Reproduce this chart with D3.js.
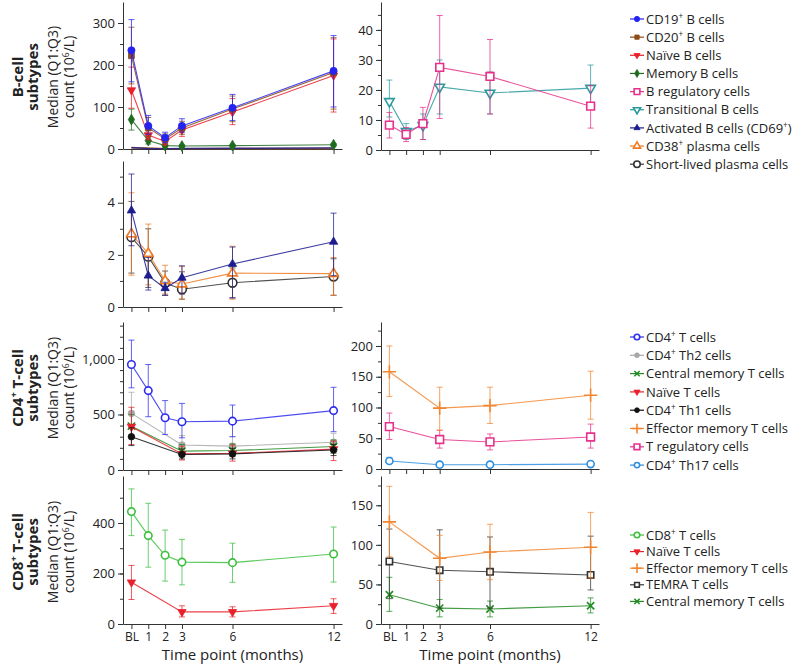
<!DOCTYPE html>
<html>
<head>
<meta charset="utf-8">
<script src="https://cdn.jsdelivr.net/npm/d3@7"></script>
<style>
  body { margin: 0; background: #fff; }
  svg { display: block; font-family: "Open Sans", "Noto Sans", sans-serif; }
  .axis path, .axis line { stroke: #333; }
  .axis text { font-size: 13px; fill: #222; font-family: "Open Sans", sans-serif; }
  .xaxis text { font-size: 12px; }
  .legend text { font-size: 13px; fill: #222; }
</style>
</head>
<body>
<script>
// time points (months) and their labels
const months = [0, 1, 2, 3, 6, 12];
const monthLabels = ["BL", "1", "2", "3", "6", "12"];

// B-cell subtypes: median, Q1, Q3
const cd19Med = [235, 55, 27, 55, 98, 186];
const cd19Q1 = [160, 35, 15, 40, 68, 100];
const cd19Q3 = [308, 80, 40, 72, 130, 270];
const cd20Med = [222, 50, 24, 50, 95, 182];
const cd20Q1 = [155, 30, 12, 35, 65, 95];
const cd20Q3 = [290, 75, 36, 66, 126, 265];
const naiveBMed = [140, 33, 18, 45, 88, 175];
const naiveBQ1 = [97, 22, 10, 30, 58, 88];
const naiveBQ3 = [195, 52, 30, 60, 120, 262];
const memBMed = [70, 20, 8, 7, 8, 10];
const memBQ1 = [45, 12, 5, 5, 6, 7];
const memBQ3 = [95, 28, 12, 10, 11, 13];
const bregMed = [8.3, 5.2, 8.8, 27.5, 24.5, 14.6];
const bregQ1 = [4, 2.8, 3.5, 10.5, 12, 7.3];
const bregQ3 = [12.5, 7.5, 14.2, 44.8, 36.8, 21.5];
const transMed = [16.2, 6.2, 8.2, 21, 19, 20.6];
const transQ1 = [11, 3.5, 3.5, 12, 12, 14];
const transQ3 = [23.3, 8.8, 12, 30, 26, 28.3];
const actMed = [3.7, 1.2, 0.72, 1.12, 1.65, 2.5];
const actQ1 = [2.35, 0.65, 0.45, 0.5, 0.35, 1.2];
const actQ3 = [5.1, 1.9, 0.95, 1.58, 2.3, 3.6];
const cd38Med = [2.8, 2.05, 1.0, 0.88, 1.3, 1.28];
const cd38Q1 = [1.22, 0.85, 0.5, 0.3, 0.3, 0.45];
const cd38Q3 = [4.38, 3.18, 1.6, 1.55, 2.33, 1.9];
const slpMed = [2.68, 1.93, 0.92, 0.68, 0.93, 1.17];
const slpQ1 = [1.3, 0.75, 0.45, 0.3, 0.35, 0.45];
const slpQ3 = [4.05, 3.0, 1.38, 1.35, 1.5, 1.85];

// CD4+ T-cell subtypes
const cd4Med = [950, 715, 470, 435, 440, 535];
const cd4Q1 = [740, 480, 320, 290, 300, 345];
const cd4Q3 = [1170, 950, 625, 600, 585, 745];
const th2Med = [510, null, null, 225, 215, 250];
const th2Q1 = [400, null, null, 160, 150, 170];
const th2Q3 = [700, null, null, 310, 300, 330];
const cm4Med = [395, null, null, 170, 175, 212];
const cm4Q1 = [300, null, null, 120, 120, 150];
const cm4Q3 = [500, null, null, 230, 235, 270];
const naiveT4Med = [390, null, null, 145, 150, 188];
const naiveT4Q1 = [230, null, null, 90, 80, 85];
const naiveT4Q3 = [565, null, null, 215, 225, 260];
const th1Med = [300, null, null, 140, 145, 180];
const th1Q1 = [220, null, null, 100, 100, 130];
const th1Q3 = [380, null, null, 190, 195, 230];
const em4Med = [158, null, null, 99, 103, 120];
const em4Q1 = [118, null, null, 63, 74, 81];
const em4Q3 = [200, null, null, 133, 133, 159];
const tregMed = [69, null, null, 48, 44, 52];
const tregQ1 = [48, null, null, 34, 31, 34];
const tregQ3 = [91, null, null, 63, 57, 73];
const th17Med = [13, null, null, 7, 7, 8];
const th17Q1 = [9, null, null, 5, 5, 6];
const th17Q3 = [19, null, null, 9, 9, 10];

// CD8+ T-cell subtypes
const cd8Med = [445, 350, 272, 245, 243, 277];
const cd8Q1 = [350, 225, 170, 155, 165, 166];
const cd8Q3 = [535, 478, 372, 335, 320, 384];
const naiveT8Med = [165, null, null, 48, 48, 72];
const naiveT8Q1 = [97, null, null, 28, 28, 42];
const naiveT8Q3 = [232, null, null, 72, 68, 100];
const em8Med = [129, null, null, 83, 91, 97];
const em8Q1 = [85, null, null, 55, 56, 58];
const em8Q3 = [174, null, null, 112, 126, 141];
const temraMed = [79, null, null, 68, 66, 62];
const temraQ1 = [32, null, null, 20, 20, 43];
const temraQ3 = [120, null, null, 119, 110, 111];
const cm8Med = [37, null, null, 20, 19, 23];
const cm8Q1 = [16, null, null, 9, 9, 14];
const cm8Q3 = [59, null, null, 31, 29, 33];

// series objects (style + data)
function ser(label, med, q1, q3, color, sym, open, size, rot) {
  return { label, med, q1, q3, color, sym, open, size: size || 36, rot: rot || 0 };
}
const S = {
  cd19: ser("CD19^+ B cells", cd19Med, cd19Q1, cd19Q3, "#2424f0", d3.symbolCircle, false, 40),
  cd20: ser("CD20^+ B cells", cd20Med, cd20Q1, cd20Q3, "#8b4a16", d3.symbolSquare, false, 34),
  naiveB: ser("Naïve B cells", naiveBMed, naiveBQ1, naiveBQ3, "#e8202a", d3.symbolTriangle, false, 30, 180),
  memB: ser("Memory B cells", memBMed, memBQ1, memBQ3, "#1e6b1e", d3.symbolDiamond, false, 34),
  breg: ser("B regulatory cells", bregMed, bregQ1, bregQ3, "#e6308a", d3.symbolSquare, true, 60),
  trans: ser("Transitional B cells", transMed, transQ1, transQ3, "#2a9a9e", d3.symbolTriangle, true, 40, 180),
  act: ser("Activated B cells (CD69^+)", actMed, actQ1, actQ3, "#1c1c8e", d3.symbolTriangle, false, 30),
  cd38: ser("CD38^+ plasma cells", cd38Med, cd38Q1, cd38Q3, "#f07a22", d3.symbolTriangle, true, 40),
  slp: ser("Short-lived plasma cells", slpMed, slpQ1, slpQ3, "#333333", d3.symbolCircle, true, 60),
  cd4: ser("CD4^+ T cells", cd4Med, cd4Q1, cd4Q3, "#2d2df0", d3.symbolCircle, true, 44),
  th2: ser("CD4^+ Th2 cells", th2Med, th2Q1, th2Q3, "#a8a8a8", d3.symbolCircle, false, 34),
  cm4: ser("Central memory T cells", cm4Med, cm4Q1, cm4Q3, "#238a23", d3.symbolX, true, 36),
  naiveT4: ser("Naïve T cells", naiveT4Med, naiveT4Q1, naiveT4Q3, "#e8202a", d3.symbolTriangle, false, 30, 180),
  th1: ser("CD4^+ Th1 cells", th1Med, th1Q1, th1Q3, "#111111", d3.symbolCircle, false, 34),
  em4: ser("Effector memory T cells", em4Med, em4Q1, em4Q3, "#f28630", d3.symbolPlus, true, 60),
  treg: ser("T regulatory cells", tregMed, tregQ1, tregQ3, "#e6308a", d3.symbolSquare, true, 60),
  th17: ser("CD4^+ Th17 cells", th17Med, th17Q1, th17Q3, "#2e8fe0", d3.symbolCircle, true, 40),
  cd8: ser("CD8^+ T cells", cd8Med, cd8Q1, cd8Q3, "#3cbf3c", d3.symbolCircle, true, 44),
  naiveT8: ser("Naïve T cells", naiveT8Med, naiveT8Q1, naiveT8Q3, "#e8202a", d3.symbolTriangle, false, 30, 180),
  em8: ser("Effector memory T cells", em8Med, em8Q1, em8Q3, "#f28630", d3.symbolPlus, true, 60),
  temra: ser("TEMRA T cells", temraMed, temraQ1, temraQ3, "#333333", d3.symbolSquare, true, 40),
  cm8: ser("Central memory T cells", cm8Med, cm8Q1, cm8Q3, "#238a23", d3.symbolX, true, 36)
};

const W = 792, H = 664;
const leftX = [123, 342], rightX = [381, 599];

const panels = [
  { xr: leftX, yr: [149, 2], max: 350, major: [0, 100, 200, 300], minor: d3.range(50, 350, 50),
    series: [S.slp, S.cd38, S.act, S.memB, S.naiveB, S.cd20, S.cd19], noBars: [S.slp, S.cd38, S.act], noMarks: [S.slp, S.cd38, S.act] },
  { xr: rightX, yr: [150, 2], max: 49.3, major: [0, 10, 20, 30, 40], minor: d3.range(5, 49, 5),
    series: [S.trans, S.breg] },
  { xr: leftX, yr: [307, 161], max: 5.6, major: [0, 2, 4], minor: [1, 3, 5],
    series: [S.slp, S.cd38, S.act] },
  { xr: leftX, yr: [470, 322], max: 1333, major: [0, 500, 1000], minor: d3.range(100, 1333, 100),
    series: [S.th2, S.cm4, S.naiveT4, S.th1, S.cd4] },
  { xr: rightX, yr: [469, 322], max: 239, major: [0, 50, 100, 150, 200], minor: d3.range(25, 239, 25),
    series: [S.th17, S.treg, S.em4] },
  { xr: leftX, yr: [624, 476], max: 586, major: [0, 200, 400], minor: d3.range(100, 586, 100),
    series: [S.naiveT8, S.cd8], xLabels: true },
  { xr: rightX, yr: [624, 476], max: 187, major: [0, 50, 100, 150], minor: d3.range(25, 187, 25),
    series: [S.cm8, S.temra, S.em8], xLabels: true }
];

const legends = [
  { y0: 19, step: 18.15, items: [S.cd19, S.cd20, S.naiveB, S.memB, S.breg, S.trans, S.act, S.cd38, S.slp] },
  { y0: 337, step: 18.3, items: [S.cd4, S.th2, S.cm4, S.naiveT4, S.th1, S.em4, S.treg, S.th17] },
  { y0: 535, step: 16.6, items: [S.cd8, S.naiveT8, S.em8, S.temra, S.cm8] }
];

const groups = [
  { l1: "B-cell", l2: "subtypes", cy: 77 },
  { l1: "CD4^+ T-cell", l2: "subtypes", cy: 388 },
  { l1: "CD8^+ T-cell", l2: "subtypes", cy: 552 }
];

const svg = d3.select("body").append("svg").attr("width", W).attr("height", H);

// text with ^x superscripts (fs = font size of the text in px)
function rich(sel, str, fs) {
  const shift = fs * 0.38;
  const parts = str.split(/\^(.)/);
  let raised = false;
  parts.forEach(function (p, i) {
    if (i % 2 === 1) {
      sel.append("tspan").attr("dy", -shift).attr("font-size", fs * 0.62).text(p);
      raised = true;
    } else {
      if (p === "" && !raised) return;
      sel.append("tspan").attr("dy", raised ? shift : 0).text(p === "" ? "\u200b" : p);
      raised = false;
    }
  });
  return sel;
}

function marker(g, s, x, y) {
  g.append("path")
    .attr("d", d3.symbol().type(s.sym).size(s.size)())
    .attr("transform", "translate(" + x + "," + y + ") rotate(" + s.rot + ")")
    .attr("fill", s.open ? (s.sym === d3.symbolPlus || s.sym === d3.symbolX ? "none" : "#fff") : s.color)
    .attr("stroke", s.color)
    .attr("stroke-width", s.open ? 1.6 : 0.8);
}

panels.forEach(function (p) {
  const x = d3.scaleLinear().domain([-0.5, 12.5]).range(p.xr);
  const y = d3.scaleLinear().domain([0, p.max]).range(p.yr);
  const g = svg.append("g");

  // axes
  g.append("g").attr("class", "axis")
    .attr("transform", "translate(" + p.xr[0] + ",0)")
    .call(d3.axisLeft(y).tickValues(p.minor).tickSize(3).tickFormat(""))
    .call(a => a.select(".domain").remove());
  g.append("g").attr("class", "axis")
    .attr("transform", "translate(" + p.xr[0] + ",0)")
    .call(d3.axisLeft(y).tickValues(p.major).tickSize(5).tickSizeOuter(0).tickFormat(d3.format(",")));
  g.append("g").attr("class", "axis xaxis")
    .attr("transform", "translate(0," + p.yr[0] + ")")
    .call(d3.axisBottom(x).tickValues(months).tickSize(5).tickSizeOuter(0)
      .tickFormat(p.xLabels ? (d, i) => monthLabels[i] : ""));

  const line = d3.line().x(d => x(d.m)).y(d => y(d.v));

  p.series.forEach(function (s) {
    const pts = months.map((m, i) => ({ m: m, v: s.med[i], lo: s.q1[i], hi: s.q3[i] }))
      .filter(d => d.v != null);
    const sg = g.append("g");
    const bars = !(p.noBars && p.noBars.includes(s));
    if (bars) {
      pts.forEach(function (d) {
        const px = x(d.m);
        sg.append("line").attr("x1", px).attr("x2", px).attr("y1", y(d.lo)).attr("y2", y(d.hi))
          .attr("stroke", s.color).attr("stroke-opacity", 0.75);
        [d.lo, d.hi].forEach(function (v) {
          sg.append("line").attr("x1", px - 3).attr("x2", px + 3).attr("y1", y(v)).attr("y2", y(v))
            .attr("stroke", s.color).attr("stroke-opacity", 0.75);
        });
      });
    }
    sg.append("path").datum(pts).attr("d", line)
      .attr("fill", "none").attr("stroke", s.color).attr("stroke-width", bars ? 1.1 : 1.4)
      .attr("stroke-opacity", 0.85);
    if (!(p.noMarks && p.noMarks.includes(s))) {
      pts.forEach(d => marker(sg, s, x(d.m), y(d.v)));
    }
  });

  if (p.xLabels) {
    g.append("text").attr("x", (p.xr[0] + p.xr[1]) / 2).attr("y", 660)
      .attr("text-anchor", "middle").attr("font-size", 15).attr("fill", "#222")
      .text("Time point (months)");
  }
});

// legends
legends.forEach(function (L) {
  const lg = svg.append("g").attr("class", "legend");
  L.items.forEach(function (s, i) {
    const cy = L.y0 + i * L.step;
    lg.append("line").attr("x1", 630).attr("x2", 644).attr("y1", cy).attr("y2", cy)
      .attr("stroke", s.color).attr("stroke-width", 1.2);
    const ms = Object.assign({}, s, { size: s.size * 0.55 });
    marker(lg, ms, 637, cy);
    rich(lg.append("text").attr("x", 646).attr("y", cy + 4.6), s.label, 13);
  });
});

// row titles
groups.forEach(function (gr) {
  const t = svg.append("g").attr("transform", "translate(0," + gr.cy + ") rotate(-90)");
  rich(t.append("text").attr("x", 0).attr("y", 23).attr("text-anchor", "middle")
    .attr("font-size", 15).attr("font-weight", "bold").attr("fill", "#222"), gr.l1, 15);
  t.append("text").attr("x", 0).attr("y", 38).attr("text-anchor", "middle")
    .attr("font-size", 15).attr("font-weight", "bold").attr("fill", "#222").text(gr.l2);
  t.append("text").attr("x", 0).attr("y", 58).attr("text-anchor", "middle")
    .attr("font-size", 14).attr("fill", "#222").text("Median (Q1:Q3)");
  rich(t.append("text").attr("x", 0).attr("y", 74).attr("text-anchor", "middle")
    .attr("font-size", 14).attr("fill", "#222"), "count (10^6/L)", 14);
});
</script>
</body>
</html>
